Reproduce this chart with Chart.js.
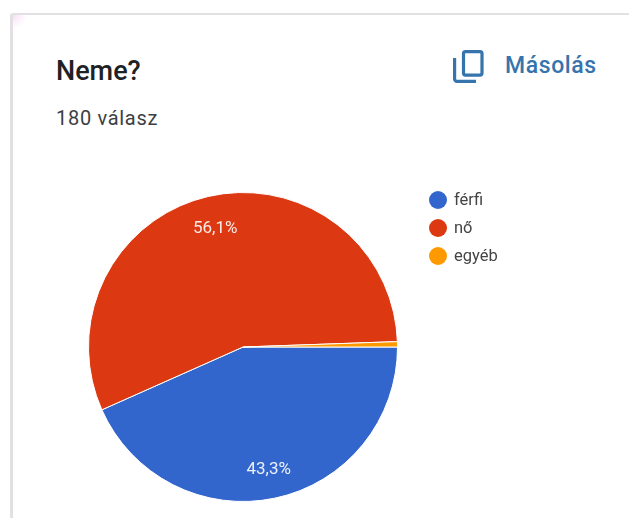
<!DOCTYPE html>
<html lang="hu">
<head>
<meta charset="utf-8">
<title>Neme?</title>
<script src="https://cdn.jsdelivr.net/npm/chart.js@4"></script>
<style>
  html, body { margin: 0; padding: 0; background: #fff; overflow: hidden; }
  body { width: 629px; height: 518px; position: relative; font-family: Roboto, sans-serif; }
  .card {
    position: absolute; left: 10px; top: 13px; width: 640px; height: 540px;
    border: solid #e2e0e2; border-width: 2px 3px 3px 3px; border-radius: 3px; box-sizing: border-box;
    background: radial-gradient(circle at 0 0, #f6dcf6 0, #fbeefb 6px, #fff 14px);
  }
  .title { position: absolute; left: 56px; top: 56px; font-size: 27px; font-weight: 500; color: #202124; line-height: 30px; }
  .count { position: absolute; left: 56px; top: 105px; font-size: 20px; color: #3c4043; line-height: 26px; letter-spacing: 0.7px; }
  .copy { position: absolute; left: 505px; top: 52px; font-size: 23px; font-weight: 500; color: #3674ad; line-height: 28px; letter-spacing: 0.6px; }
  .copy-icon { position: absolute; left: 450px; top: 47px; }
  #pie { position: absolute; left: 0; top: 0; }
  .legend { position: absolute; left: 429px; top: 186px; }
  .legend div { height: 28px; line-height: 28px; font-size: 16.5px; color: #444; white-space: nowrap; }
  .legend i { display: inline-block; width: 18px; height: 18px; border-radius: 50%; margin-right: 7px; vertical-align: -4px; }
</style>
</head>
<body>
<div class="card"></div>
<div class="title">Neme?</div>
<div class="count">180 válasz</div>
<svg class="copy-icon" width="36" height="38" viewBox="0 0 36 38" fill="none" stroke="#3674ad" stroke-width="3.2">
  <rect x="13.5" y="4.6" width="18.5" height="23.5" rx="2"></rect>
  <path d="M4.6 11 V32 a2.4 2.4 0 0 0 2.4 2.4 H26"></path>
</svg>
<div class="copy">Másolás</div>
<canvas id="pie" width="629" height="518"></canvas>
<div class="legend" id="legend"></div>

<script>
const categories = ['férfi', 'nő', 'egyéb'];
const answers = [78, 101, 1];
const colors = ['#3366cc', '#dc3912', '#ff9900'];

const total = answers.reduce((a, b) => a + b, 0);

// percentage text inside the slices, skipped for very thin ones
const sliceLabels = {
  id: 'sliceLabels',
  afterDatasetsDraw(chart) {
    const c = chart.ctx;
    chart.getDatasetMeta(0).data.forEach((arc, i) => {
      const share = answers[i] / total * 100;
      if (share < 5) return;
      const p = arc.getProps(['x', 'y', 'startAngle', 'endAngle', 'outerRadius'], true);
      const mid = (p.startAngle + p.endAngle) / 2;
      const r = p.outerRadius * 0.8;
      c.save();
      c.fillStyle = 'rgba(255,255,255,0.9)';
      c.font = '17px Roboto, sans-serif';
      c.textAlign = 'center';
      c.textBaseline = 'middle';
      c.fillText(share.toFixed(1).replace('.', ',') + '%', p.x + Math.cos(mid) * r, p.y + Math.sin(mid) * r + 2);
      c.restore();
    });
  }
};

new Chart(document.getElementById('pie'), {
  type: 'pie',
  data: {
    labels: categories,
    datasets: [{
      data: answers,
      backgroundColor: colors,
      borderColor: '#fff',
      borderWidth: 1
    }]
  },
  options: {
    responsive: false,
    animation: false,
    rotation: 90,
    layout: { padding: { left: 88, right: 231, top: 192, bottom: 16 } },
    plugins: {
      legend: { display: false },
      tooltip: { enabled: false }
    }
  },
  plugins: [sliceLabels]
});

const legend = document.getElementById('legend');
categories.forEach((name, i) => {
  const row = document.createElement('div');
  const dot = document.createElement('i');
  dot.style.background = colors[i];
  row.appendChild(dot);
  row.appendChild(document.createTextNode(name));
  legend.appendChild(row);
});
</script>
</body>
</html>
